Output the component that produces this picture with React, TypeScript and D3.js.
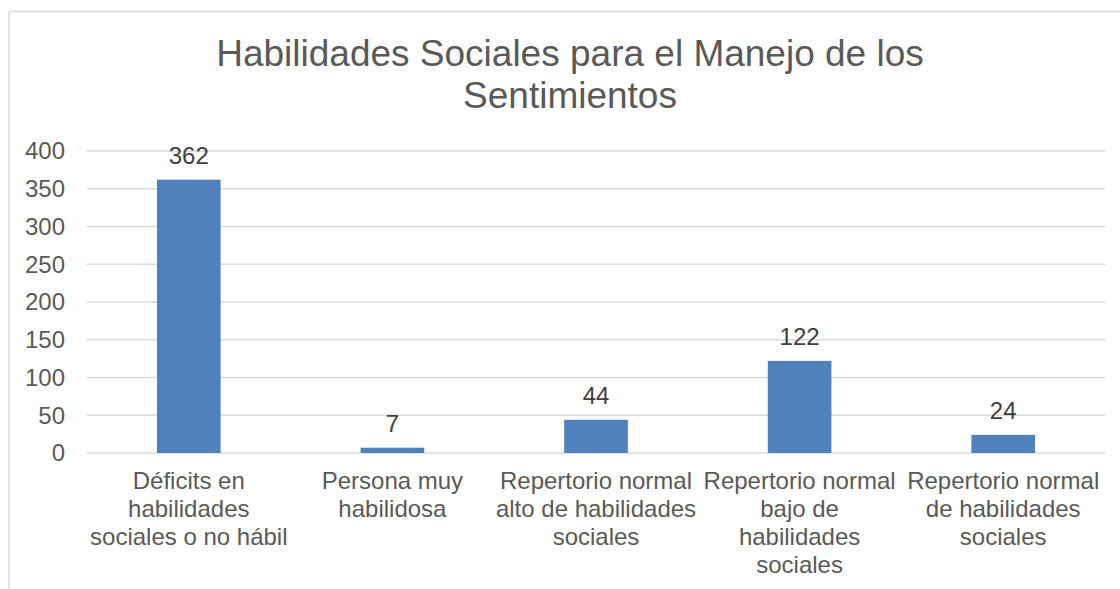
import React from "react";
import * as d3 from "d3";

const categories = [
  "Déficits en habilidades sociales o no hábil",
  "Persona muy habilidosa",
  "Repertorio normal alto de habilidades sociales",
  "Repertorio normal bajo de habilidades sociales",
  "Repertorio normal de habilidades sociales",
];
const categoryLines = [
  ["Déficits en", "habilidades", "sociales o no hábil"],
  ["Persona muy", "habilidosa"],
  ["Repertorio normal", "alto de habilidades", "sociales"],
  ["Repertorio normal", "bajo de", "habilidades", "sociales"],
  ["Repertorio normal", "de habilidades", "sociales"],
];
const values = [362, 7, 44, 122, 24];
const yTicks = [0, 50, 100, 150, 200, 250, 300, 350, 400];
const titleLines = ["Habilidades Sociales para el Manejo de los", "Sentimientos"];

const W = 1120;
const H = 589;
const FONT = "Arial, 'Liberation Sans', Helvetica, sans-serif";

export default function App() {
  const x = d3.scaleBand<string>().domain(categories).range([87, 1105]).paddingInner(0.6875).paddingOuter(0.34375);
  const y = d3.scaleLinear().domain([0, 400]).range([453, 151]);

  return (
    <svg
      width={W}
      height={H}
      style={{ position: "absolute", left: 0, top: 0, background: "#fff" }}
      fontFamily={FONT}
    >
      <rect x={0} y={0} width={W} height={H} fill="#fff" />
      <line x1={9} y1={11.5} x2={W} y2={11.5} stroke="#d9d9d9" strokeWidth={1.5} />
      <line x1={9} y1={11.5} x2={9} y2={H} stroke="#d9d9d9" strokeWidth={1.5} />

      {titleLines.map((t, i) => (
        <text key={i} x={570} y={66 + i * 42} textAnchor="middle" fontSize={37} fill="#595959">
          {t}
        </text>
      ))}

      {yTicks.map((t) => (
        <g key={t}>
          <line x1={87} x2={1105} y1={y(t)} y2={y(t)} stroke="#d9d9d9" strokeWidth={1.5} />
          <text x={65} y={y(t)} dy="0.35em" textAnchor="end" fontSize={24} fill="#595959">
            {t}
          </text>
        </g>
      ))}

      {categories.map((c, i) => {
        const bx = x(c)!;
        const cx = bx + x.bandwidth() / 2;
        return (
          <g key={c}>
            <rect x={bx} y={y(values[i])} width={x.bandwidth()} height={y(0) - y(values[i])} fill="#4f81bd" />
            <text x={cx} y={y(values[i]) - 16} textAnchor="middle" fontSize={24} fill="#404040">
              {values[i]}
            </text>
            {categoryLines[i].map((l, j) => (
              <text key={j} x={cx} y={489 + j * 28} textAnchor="middle" fontSize={24} fill="#595959">
                {l}
              </text>
            ))}
          </g>
        );
      })}
    </svg>
  );
}
